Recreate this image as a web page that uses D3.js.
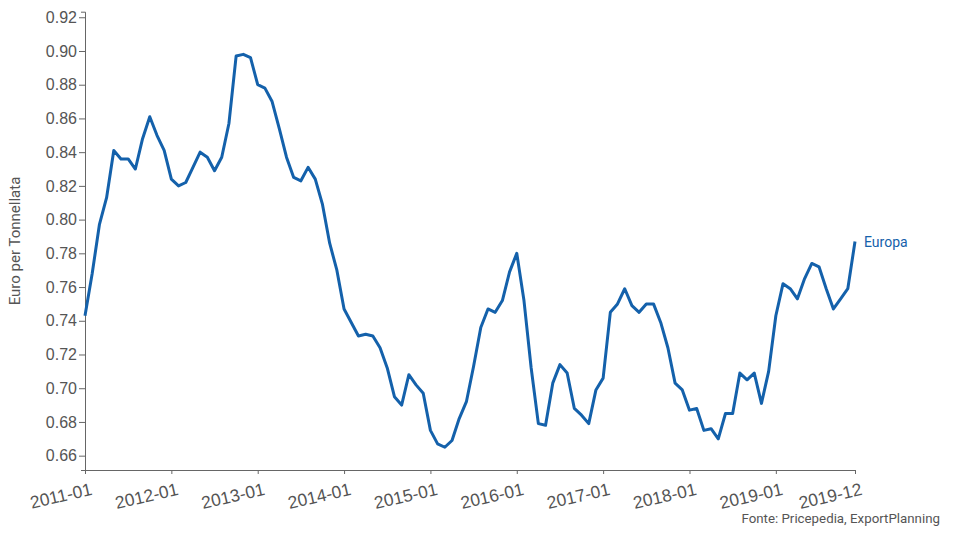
<!DOCTYPE html>
<html>
<head>
<meta charset="utf-8">
<script src="https://cdn.jsdelivr.net/npm/d3@7/dist/d3.min.js"></script>
<style>
  html, body { margin: 0; padding: 0; background: #fff; }
  svg { display: block; font-family: Roboto, "Open Sans", sans-serif; }
</style>
</head>
<body>
<svg id="chart" width="972" height="541"></svg>
<script>
const years = [2011, 2012, 2013, 2014, 2015, 2016, 2017, 2018, 2019];
const months = [];
years.forEach(y => { for (let m = 1; m <= 12; m++) months.push(y + "-" + String(m).padStart(2, "0")); });

const europaValues = [
  0.743, 0.768, 0.797, 0.813, 0.841, 0.836, 0.836, 0.830, 0.848, 0.861, 0.850, 0.841,
  0.824, 0.820, 0.822, 0.831, 0.840, 0.837, 0.829, 0.837, 0.857, 0.897, 0.898, 0.896,
  0.880, 0.878, 0.870, 0.854, 0.837, 0.825, 0.823, 0.831, 0.824, 0.809, 0.786, 0.770,
  0.747, 0.739, 0.731, 0.732, 0.731, 0.724, 0.712, 0.695, 0.690, 0.708, 0.702, 0.697,
  0.675, 0.667, 0.665, 0.669, 0.682, 0.692, 0.713, 0.736, 0.747, 0.745, 0.752, 0.769,
  0.780, 0.752, 0.712, 0.679, 0.678, 0.703, 0.714, 0.709, 0.688, 0.684, 0.679, 0.699,
  0.706, 0.745, 0.750, 0.759, 0.749, 0.745, 0.750, 0.750, 0.739, 0.724, 0.703, 0.699,
  0.687, 0.688, 0.675, 0.676, 0.670, 0.685, 0.685, 0.709, 0.705, 0.709, 0.691, 0.710,
  0.743, 0.762, 0.759, 0.753, 0.765, 0.774, 0.772, 0.759, 0.747, 0.753, 0.759, 0.787
];
const xTickLabels = ["2011-01","2012-01","2013-01","2014-01","2015-01","2016-01","2017-01","2018-01","2019-01","2019-12"];
const yTickValues = [0.66,0.68,0.70,0.72,0.74,0.76,0.78,0.80,0.82,0.84,0.86,0.88,0.90,0.92];
const seriesName = "Europa";
const yTitle = "Euro per Tonnellata";
const sourceText = "Fonte: Pricepedia, ExportPlanning";

const data = months.map((m, i) => ({ month: m, value: europaValues[i] }));

const svg = d3.select("#chart");
const mLeft = 85, mRight = 855, mTop = 11.7, mBottom = 470;
const lineColor = "#1461ab";
const textColor = "#555";
const axisColor = "#666";

const x = d3.scalePoint().domain(months).range([mLeft, mRight]);
const y = d3.scaleLinear().domain([0.6515, 0.9233]).range([mBottom, mTop]);

// Y axis
const yAxis = svg.append("g")
  .attr("transform", `translate(${mLeft},0)`)
  .call(d3.axisLeft(y).tickValues(yTickValues).tickFormat(d3.format(".2f")).tickSizeInner(6).tickSizeOuter(4).tickPadding(2));
yAxis.selectAll("text").attr("fill", textColor).style("font-size", "16px");
yAxis.selectAll("line, path").attr("stroke", axisColor);

// X axis
const xAxis = svg.append("g")
  .attr("transform", `translate(0,${mBottom})`)
  .call(d3.axisBottom(x).tickValues(xTickLabels).tickSizeInner(4).tickSizeOuter(0).tickPadding(5));
xAxis.select(".domain").attr("d", `M${mLeft},0.5H${mRight}`);
xAxis.selectAll("line, path").attr("stroke", axisColor);
xAxis.selectAll("text")
  .attr("fill", textColor)
  .style("font-size", "17.5px")
  .attr("text-anchor", "end")
  .attr("dx", "0.1em")
  .attr("dy", "0.95em")
  .attr("transform", "rotate(-13)");

// Line
svg.append("path")
  .datum(data)
  .attr("fill", "none")
  .attr("stroke", lineColor)
  .attr("stroke-width", 3)
  .attr("stroke-linejoin", "round")
  .attr("d", d3.line().x(d => x(d.month)).y(d => y(d.value)));

// Series label
const last = data[data.length - 1];
svg.append("text")
  .attr("x", x(last.month) + 9)
  .attr("y", y(last.value) + 5)
  .attr("fill", lineColor)
  .style("font-size", "14px")
  .text(seriesName);

// Y title
svg.append("text")
  .attr("transform", `translate(20,241) rotate(-90)`)
  .attr("text-anchor", "middle")
  .attr("fill", textColor)
  .style("font-size", "15px")
  .text(yTitle);

// Source
svg.append("text")
  .attr("x", 940)
  .attr("y", 523)
  .attr("text-anchor", "end")
  .attr("fill", textColor)
  .style("font-size", "13.3px")
  .text(sourceText);
</script>
</body>
</html>
